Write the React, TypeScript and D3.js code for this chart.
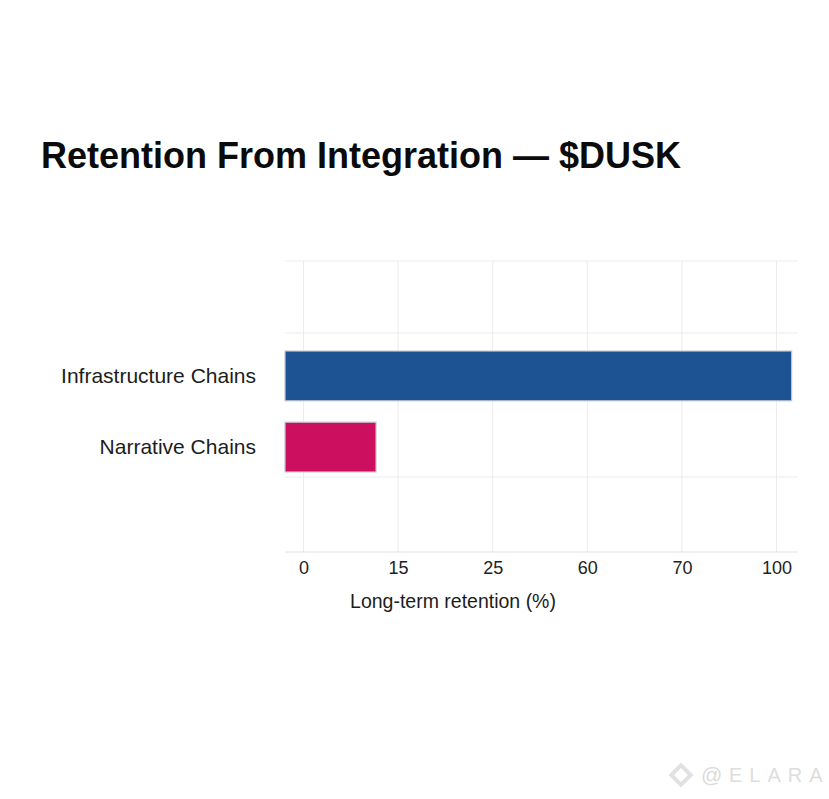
import React, { useEffect, useRef } from "react";
import * as d3 from "d3";

const title = "Retention From Integration — $DUSK";
const xLabel = "Long-term retention (%)";
const categories = ["Infrastructure Chains", "Narrative Chains"];
const retention = [104.8, 11.5];
const barColors = ["#1d5393", "#cd0f5f"];
const tickValues = [0, 15, 25, 60, 70, 100];
const rowLines = [0, 1, 3, 4];

const font = "'Liberation Sans', Arial, sans-serif";

export default function App() {
  const svgRef = useRef<SVGSVGElement>(null);

  useEffect(() => {
    if (!svgRef.current) return;
    const svg = d3.select(svgRef.current);
    svg.selectAll("*").remove();

    const left = 285;
    const right = 798;
    const top = 261;
    const bottom = 552;

    // ticks are evenly spaced although the values are not, so piecewise scale
    const xScale = d3
      .scaleLinear()
      .domain(tickValues)
      .range(tickValues.map((_, i) => 303.5 + i * 94.6));

    const yScale = d3
      .scaleBand<string>()
      .domain(categories)
      .range([351, 472])
      .paddingInner(0.3);

    const rowScale = d3
      .scaleLinear()
      .domain(rowLines)
      .range([top, 333, 477, bottom]);

    // Title
    svg
      .append("text")
      .attr("x", 41)
      .attr("y", 168)
      .attr("font-family", font)
      .attr("font-size", 36)
      .attr("font-weight", 700)
      .attr("fill", "#0b0b0b")
      .text(title);

    // Grid
    const g = svg.append("g");
    g.selectAll("line.v")
      .data(tickValues)
      .join("line")
      .attr("class", "v")
      .attr("x1", (d) => xScale(d))
      .attr("x2", (d) => xScale(d))
      .attr("y1", top)
      .attr("y2", bottom)
      .attr("stroke", "#ececec")
      .attr("stroke-width", 1);

    g.selectAll("line.h")
      .data(rowLines)
      .join("line")
      .attr("class", "h")
      .attr("x1", left)
      .attr("x2", right)
      .attr("y1", (d) => rowScale(d))
      .attr("y2", (d) => rowScale(d))
      .attr("stroke", (d) => (d === 4 ? "#e2e2e2" : "#ececec"))
      .attr("stroke-width", 1);

    // Bars
    g.selectAll("rect")
      .data(categories)
      .join("rect")
      .attr("x", left)
      .attr("y", (d) => yScale(d) as number)
      .attr("width", (_, i) => xScale(retention[i]) - left)
      .attr("height", yScale.bandwidth())
      .attr("fill", (_, i) => barColors[i])
      .attr("stroke", "#c4c8cf")
      .attr("stroke-width", 1.2);

    // Category labels
    g.selectAll("text.cat")
      .data(categories)
      .join("text")
      .attr("class", "cat")
      .attr("x", 256)
      .attr("y", (d) => (yScale(d) as number) + yScale.bandwidth() / 2)
      .attr("dy", "0.35em")
      .attr("text-anchor", "end")
      .attr("font-family", font)
      .attr("font-size", 21)
      .attr("fill", "#1c1c1c")
      .text((d) => d);

    // X axis
    const axis = d3
      .axisBottom(xScale)
      .tickValues(tickValues)
      .tickSize(0)
      .tickPadding(9)
      .tickFormat((d) => String(d));

    const axisG = svg
      .append("g")
      .attr("transform", `translate(0,${bottom})`)
      .call(axis);
    axisG.select(".domain").remove();
    axisG
      .selectAll("text")
      .attr("font-family", font)
      .attr("font-size", 18)
      .attr("fill", "#222");

    svg
      .append("text")
      .attr("x", 453)
      .attr("y", 608)
      .attr("text-anchor", "middle")
      .attr("font-family", font)
      .attr("font-size", 19.5)
      .attr("fill", "#1c1c1c")
      .text(xLabel);

    // Watermark
    const mark = svg.append("g").attr("opacity", 0.75);
    const diamond = d3.symbol().type(d3.symbolSquare);
    mark
      .append("path")
      .attr("d", diamond.size(190))
      .attr("transform", "translate(681,775) rotate(45)")
      .attr("fill", "none")
      .attr("stroke", "#d8d8d8")
      .attr("stroke-width", 4);
    mark
      .append("text")
      .attr("x", 701)
      .attr("y", 782)
      .attr("font-family", font)
      .attr("font-size", 21)
      .attr("fill", "#cfcfcf")
      .text("@");
    mark
      .append("text")
      .attr("x", 729)
      .attr("y", 782)
      .attr("font-family", font)
      .attr("font-size", 20)
      .attr("letter-spacing", 7)
      .attr("fill", "#d4d4d4")
      .text("ELARA");
  }, []);

  return (
    <svg
      ref={svgRef}
      width={829}
      height={799}
      style={{ position: "absolute", left: 0, top: 0, background: "#fff" }}
    />
  );
}
